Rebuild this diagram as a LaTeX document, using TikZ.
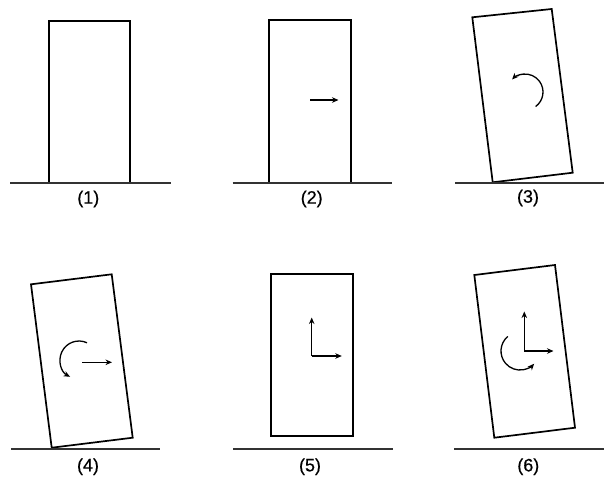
\documentclass[tikz,border=0pt]{standalone}
\usepackage{fontspec}
\setmainfont{Liberation Sans}[FakeBold=0.5]
\usetikzlibrary{arrows.meta}
\begin{document}
\begin{tikzpicture}[x=1pt,y=-1pt,
  box/.style={line width=1.7pt,line join=miter},
  ground/.style={line width=1.8pt,black!80},
  vec/.style={line width=1.3pt,-{Stealth[length=6.5pt,width=5.5pt]}},
  rot/.style={line width=1.3pt,-{Stealth[length=6.5pt,width=5.5pt]}},
  lbl/.style={font=\fontsize{18}{21}\selectfont,inner sep=0pt}]
\useasboundingbox (0,0) rectangle (604,480);
% panel 1
\draw[box] (49.3,182.7) -- (49.3,20.7) -- (130,20.7) -- (130,182.7);
\draw[ground] (10,182.7) -- (170.7,182.7);
\node[lbl] (l1) at (88.3,199) {(1)};
% panel 2
\draw[box] (269.3,182.7) -- (269.3,20) -- (351,20) -- (351,182.7);
\draw[ground] (232.7,182.7) -- (391.7,182.7);
\coordinate (a2s) at (310,100);
\coordinate (a2e) at (338.5,100);
\draw[vec] (a2s) -- (a2e);
\node[lbl] (l2) at (311.7,199) {(2)};
% panel 3
\draw[box] (472.3,17.3) -- (551.7,9) -- (572.7,172.7) -- (492.7,182.3) -- cycle;
\draw[ground] (455,182.7) -- (604,182.7);
\coordinate (c3) at (525,92);
\draw[rot] ([shift={(54:18)}]c3) arc[start angle=54,end angle=-136,radius=18];
\node[lbl] (l3) at (528,198) {(3)};
% panel 4
\draw[box] (31,284.3) -- (111.7,274.3) -- (132.7,437.7) -- (51.7,447.7) -- cycle;
\draw[ground] (11,449) -- (160,449);
\coordinate (c4) at (79,360);
\draw[rot] ([shift={(-65:19)}]c4) arc[start angle=-65,end angle=-242,radius=19];
\coordinate (a4s) at (82.3,362.3);
\coordinate (a4e) at (112,362.3);
\draw[vec] (a4s) -- (a4e);
\node[lbl] (l4) at (88,466.7) {(4)};
% panel 5
\draw[box] (270.7,274) rectangle (352.7,435.7);
\draw[ground] (233.3,449.3) -- (392.7,449.3);
\coordinate (o5) at (311.7,356);
\coordinate (u5) at (311.7,317.5);
\coordinate (r5) at (341.8,356);
\draw[vec] (o5) -- (u5);
\draw[vec] (o5) -- (r5);
\node[lbl] (l5) at (310,466.7) {(5)};
% panel 6
\draw[box] (474.3,275) -- (555,265) -- (575,427.7) -- (494.3,437.7) -- cycle;
\draw[ground] (454,449.3) -- (604,449.3);
\coordinate (o6) at (524.3,351);
\coordinate (u6) at (524.3,311.5);
\coordinate (r6) at (553.5,351);
\draw[vec] (o6) -- (u6);
\draw[vec] (o6) -- (r6);
\coordinate (c6) at (520,351);
\draw[rot] ([shift={(230:19)}]c6) arc[start angle=230,end angle=42,radius=19];
\node[lbl] (l6) at (528.3,466.7) {(6)};
\end{tikzpicture}
\end{document}
